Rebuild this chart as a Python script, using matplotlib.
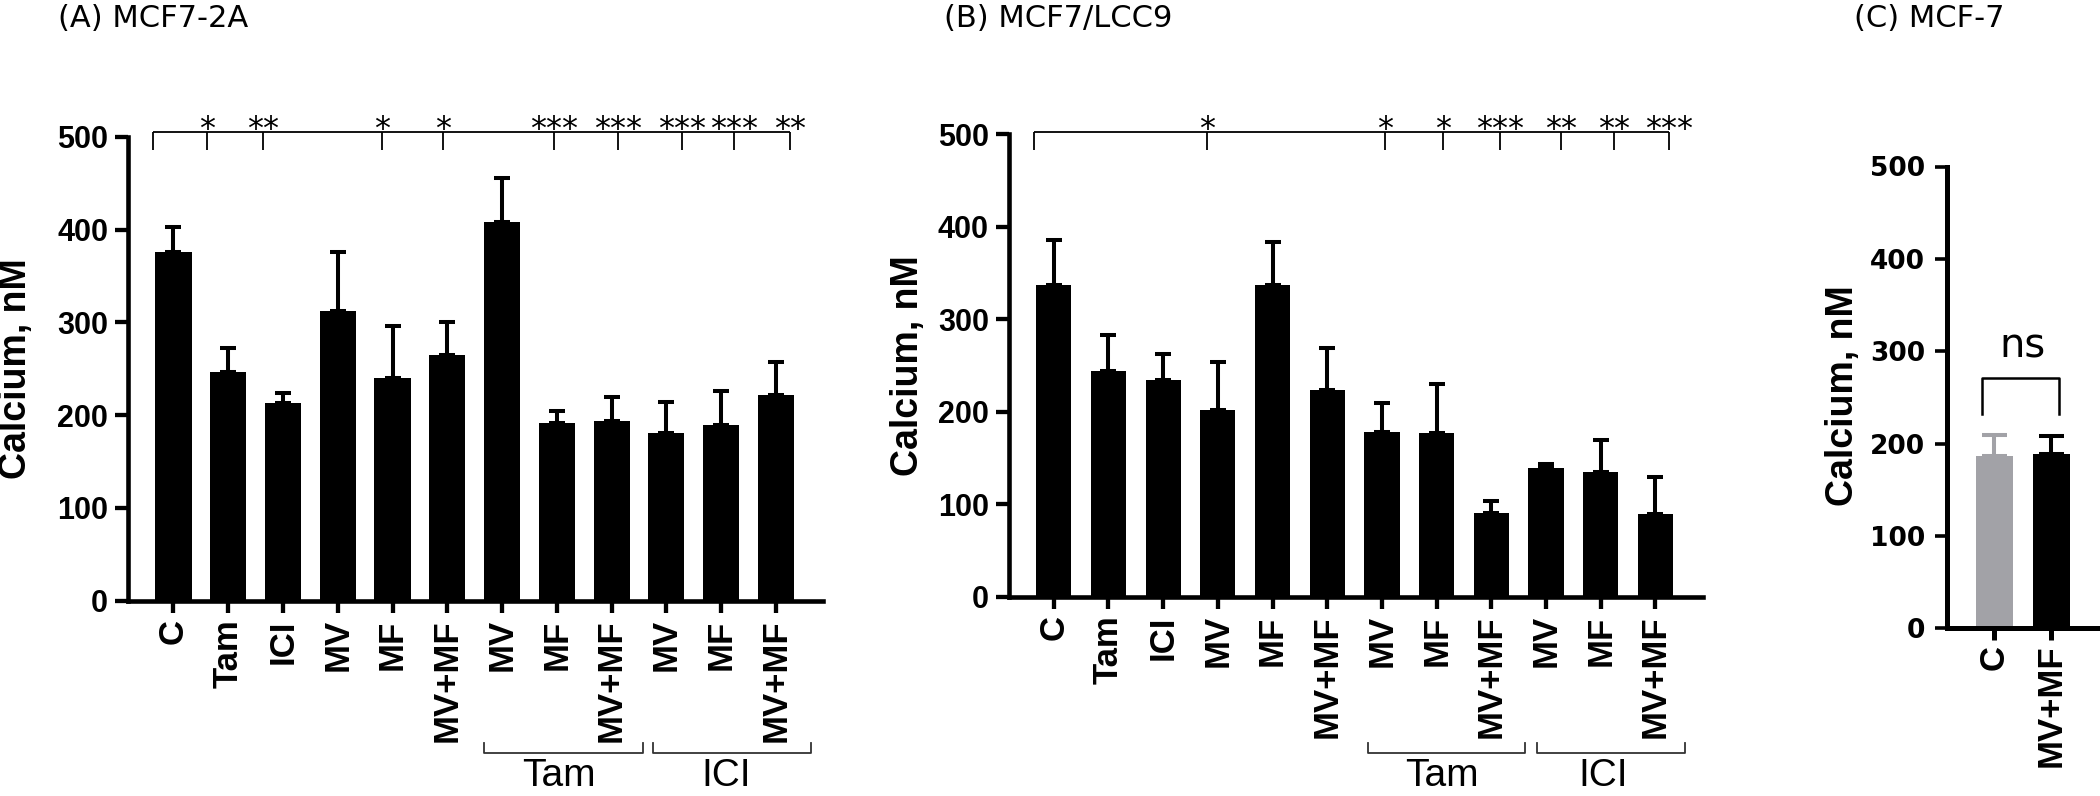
import numpy as np
import matplotlib
matplotlib.use('Agg')
import matplotlib.pyplot as plt

plt.rcParams['font.family'] = ['Liberation Sans', 'DejaVu Sans']

# categories shared by panels A and B
labels_AB = ['C', 'Tam', 'ICI', 'MV', 'MF', 'MV+MF',
             'MV', 'MF', 'MV+MF', 'MV', 'MF', 'MV+MF']

# (A) MCF7-2A
mean_A = [376, 247, 213, 312, 240, 265, 408, 192, 194, 181, 189, 222]
err_A = [27, 25, 11, 64, 56, 36, 48, 13, 26, 33, 37, 35]
sig_x_A = [0.62, 1.64, 3.81, 4.92, 6.94, 8.12, 9.29, 10.23, 11.25]
sig_A = ['*', '**', '*', '*', '***', '***', '***', '***', '**']

# (B) MCF7/LCC9
mean_B = [337, 244, 234, 202, 337, 224, 178, 177, 91, 139, 135, 89]
err_B = [49, 39, 28, 52, 47, 45, 31, 53, 12, 5, 34, 40]
sig_x_B = [2.80, 6.06, 7.11, 8.16, 9.27, 10.24, 11.25]
sig_B = ['*', '*', '*', '***', '**', '**', '***']

# (C) MCF-7
labels_C = ['C', 'MV+MF']
mean_C = [187, 188.5]
err_C = [22, 20]
colors_C = ['#a2a2a7', 'black']

yticks = [0, 100, 200, 300, 400, 500]

W, H = 2100, 796
fig = plt.figure(figsize=(W / 100, H / 100), dpi=100)


def px_axes(left, right, y0, ytop):
    # pixel box (from top-left) -> figure fraction
    return fig.add_axes([left / W, 1 - y0 / H, (right - left) / W, (y0 - ytop) / H])


def style(ax, lw, ylen, ywid, xlen, xwid, ysize, xsize, ypad, xpad, yfam=None):
    for s in ['top', 'right']:
        ax.spines[s].set_visible(False)
    for s in ['left', 'bottom']:
        ax.spines[s].set_linewidth(lw)
    ax.tick_params(axis='y', length=ylen, width=ywid, pad=ypad, labelsize=ysize)
    ax.tick_params(axis='x', length=xlen, width=xwid, pad=xpad, labelsize=xsize)
    for t in ax.get_yticklabels():
        t.set_fontweight('bold')
        if yfam:
            t.set_family(yfam)
    for t in ax.get_xticklabels():
        t.set_fontweight('bold')


def sig_bracket(ax, start, xs, marks, y, ylow, ystar):
    kw = dict(color='black', lw=1.3, clip_on=False, solid_capstyle='butt')
    ax.plot([start, xs[-1]], [y, y], **kw)
    for xv in [start] + list(xs):
        ax.plot([xv, xv], [y, ylow], **kw)
    for xv, m in zip(xs, marks):
        ax.text(xv, ystar, m, ha='center', va='baseline', fontsize=23,
                family=['DejaVu Sans'])


def group_bracket(ax, x0, x1, yb, yt, label, xl, ylab):
    tr = ax.get_xaxis_transform()
    ax.plot([x0, x0, x1, x1], [yt, yb, yb, yt], transform=tr, clip_on=False,
            color='#333333', lw=1.3)
    ax.text(xl, ylab, label, transform=tr, ha='center', va='top', fontsize=28,
            family=['Liberation Sans Narrow', 'Liberation Sans'])


def bar_panel(ax, means, errs, colors, width, capsize):
    x = np.arange(len(means))
    ax.bar(x, means, width=width, color=colors, edgecolor='none', zorder=2)
    for i in range(len(means)):
        ax.errorbar(x[i], means[i], yerr=[[0], [errs[i]]], fmt='none',
                    ecolor=colors[i] if isinstance(colors, list) else colors,
                    elinewidth=2.9, capsize=capsize, capthick=2.9, zorder=1)
    ax.set_xticks(x)
    ax.set_ylim(0, 500)
    ax.set_yticks(yticks)


# ---- panel A
axA = px_axes(128, 823, 600.7, 137)
bar_panel(axA, mean_A, err_A, 'black', 0.66, 6)
axA.set_xlim(-0.83, 11.86)
axA.set_xticklabels(labels_AB, rotation=90)
axA.set_ylabel('Calcium, nM', fontsize=27, fontweight='bold')
axA.yaxis.set_label_coords(-0.135, 0.5)
style(axA, 3.3, 9.4, 3.1, 8.6, 3.1, 22, 25, 5, 4.8)
sig_bracket(axA, -0.38, sig_x_A, sig_A, 505, 486, 499)
group_bracket(axA, 5.67, 8.57, -0.328, -0.306, 'Tam', 7.04, -0.339)
group_bracket(axA, 8.75, 11.65, -0.328, -0.306, 'ICI', 10.09, -0.339)

# ---- panel B
axB = px_axes(1008.9, 1703, 596.7, 134.3)
bar_panel(axB, mean_B, err_B, 'black', 0.645, 6)
axB.set_xlim(-0.82, 11.87)
axB.set_xticklabels(labels_AB, rotation=90)
axB.set_ylabel('Calcium, nM', fontsize=27, fontweight='bold')
axB.yaxis.set_label_coords(-0.12, 0.5)
style(axB, 3.3, 9.4, 3.1, 8.6, 3.1, 22, 25, 5, 4.8)
sig_bracket(axB, -0.37, sig_x_B, sig_B, 502, 483, 496)
group_bracket(axB, 5.74, 8.62, -0.337, -0.316, 'Tam', 7.09, -0.349)
group_bracket(axB, 8.84, 11.55, -0.337, -0.316, 'ICI', 10.04, -0.349)

# ---- panel C
axC = px_axes(1946.7, 2100, 628.4, 166.5)
bar_panel(axC, mean_C, err_C, colors_C, 0.65, 9)
axC.set_xlim(-0.84, 1.86)
axC.set_xticklabels(labels_C, rotation=90)
axC.set_ylabel('Calcium, nM', fontsize=27, fontweight='bold')
axC.yaxis.set_label_coords(-0.56, 0.503)
style(axC, 3.6, 8.6, 2.6, 8.6, 3.6, 19, 25, 7, 3, yfam=['DejaVu Sans'])
axC.plot([-0.22, -0.22, 1.13, 1.13], [232, 271, 271, 232], color='black',
         lw=1.8, clip_on=False)
axC.text(0.5, 293, 'ns', ha='center', va='baseline', fontsize=29,
         family=['DejaVu Sans'])

# ---- titles
fig.text(58 / W, 1 - 4 / H, '(A) MCF7-2A', ha='left', va='top', fontsize=22,
         family=['DejaVu Sans'])
fig.text(944 / W, 1 - 4 / H, '(B) MCF7/LCC9', ha='left', va='top', fontsize=22,
         family=['DejaVu Sans'])
fig.text(1929 / W, 1 - 4 / H, '(C) MCF-7', ha='center', va='top', fontsize=22,
         family=['DejaVu Sans'])

fig.savefig('out.png', dpi=100)
